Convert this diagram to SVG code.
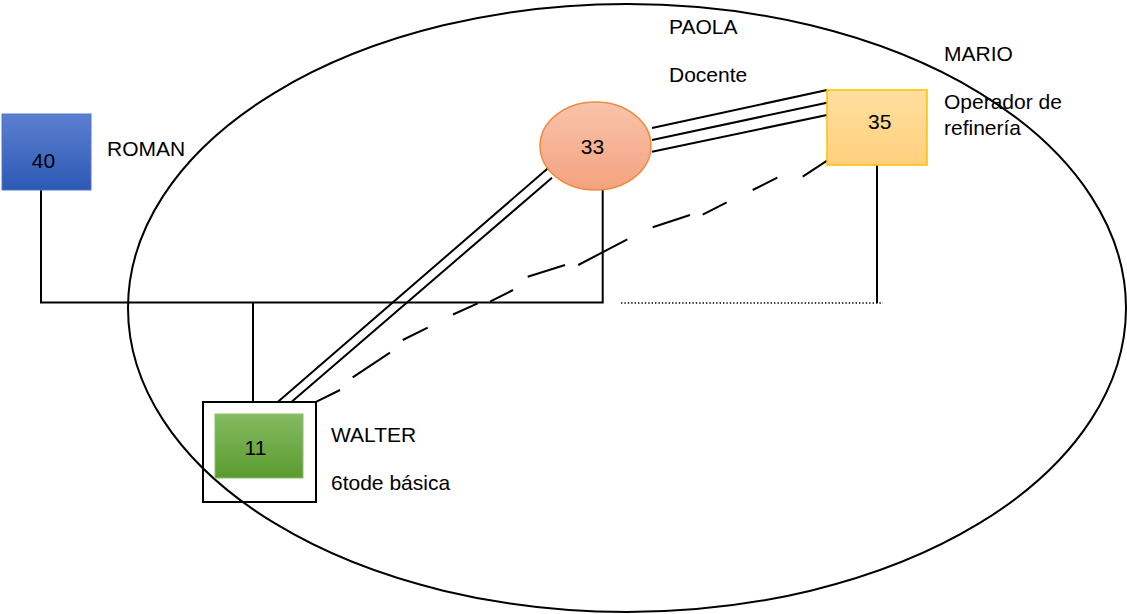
<svg xmlns="http://www.w3.org/2000/svg" width="1127" height="614" viewBox="0 0 1127 614">
<style>
text{font-family:"Liberation Sans",Arial,sans-serif;font-size:21px;fill:#000}
.ln{stroke:#000;stroke-width:2;fill:none}
.num{text-anchor:middle}
</style>
<defs>
<linearGradient id="gBlue" x1="0" y1="0" x2="0" y2="1"><stop offset="0" stop-color="#5b80d0"/><stop offset="1" stop-color="#2d59b4"/></linearGradient>
<linearGradient id="gOrange" x1="0" y1="0" x2="0" y2="1"><stop offset="0" stop-color="#f8c4ab"/><stop offset="1" stop-color="#f4a27e"/></linearGradient>
<linearGradient id="gYellow" x1="0" y1="0" x2="0" y2="1"><stop offset="0" stop-color="#ffdf9f"/><stop offset="1" stop-color="#ffd07c"/></linearGradient>
<linearGradient id="gGreen" x1="0" y1="0" x2="0" y2="1"><stop offset="0" stop-color="#86bb62"/><stop offset="1" stop-color="#5a9a2f"/></linearGradient>
</defs>
<rect width="1127" height="614" fill="#fff"/>
<g id="household">
<ellipse cx="627" cy="308" rx="499" ry="304" fill="none" stroke="#000" stroke-width="2"/>
</g>
<g id="connectors">
<path class="ln" d="M41,190 V302.5 H602.7 V190"/>
<path class="ln" d="M253,302.5 V402"/>
<path class="ln" d="M877,165 V303"/>
<path d="M621,303 H883" stroke="#000" stroke-width="1.6" stroke-dasharray="1.4 2" fill="none"/>
<path class="ln" d="M652,128 L827,90 M652,140 L827,102.7 M652,151.7 L827,115"/>
<path class="ln" d="M551.7,165 L278,401.7 M552,177.7 L291.7,401.7"/>
<path class="ln" d="M839.3,152.7 L802.7,176.7 M777.3,177.7 L752.7,190 M726.7,202.3 L702.7,214.7 M690,215 L652.7,227.3 M627.3,239.3 L578.3,265 M565,265 L527.7,276.7 M513,290 L490,301.7 M477.7,303.3 L453,314.5 M427.7,327.7 L402.7,340 M390,352.7 L352.7,377.3 M340,390 L315,402.3"/>
</g>
<g id="roman">
<rect x="2" y="114" width="89" height="76" fill="url(#gBlue)" stroke="#5077c8" stroke-width="1"/>
<text class="num" x="43.4" y="168">40</text>
<text x="107" y="156">ROMAN</text>
</g>
<g id="paola">
<ellipse cx="595.5" cy="146" rx="55.5" ry="44" fill="url(#gOrange)" stroke="#ef8a40" stroke-width="1.5"/>
<text class="num" x="592.4" y="154">33</text>
<text x="669" y="34">PAOLA</text>
<text x="669" y="82">Docente</text>
</g>
<g id="mario">
<rect x="827" y="90" width="100" height="75" fill="url(#gYellow)" stroke="#ffc000" stroke-width="1.5"/>
<text class="num" x="879.8" y="129.3">35</text>
<text x="944" y="61">MARIO</text>
<text x="944" y="109">Operador de</text>
<text x="944" y="135">refinería</text>
</g>
<g id="walter">
<rect x="203" y="402" width="113" height="100" fill="none" stroke="#000" stroke-width="2"/>
<rect x="215" y="414" width="88" height="64" fill="url(#gGreen)" stroke="#8cc06a" stroke-width="1"/>
<text class="num" x="255.5" y="455">11</text>
<text x="331" y="442">WALTER</text>
<text x="331" y="490">6tode básica</text>
</g>
</svg>
